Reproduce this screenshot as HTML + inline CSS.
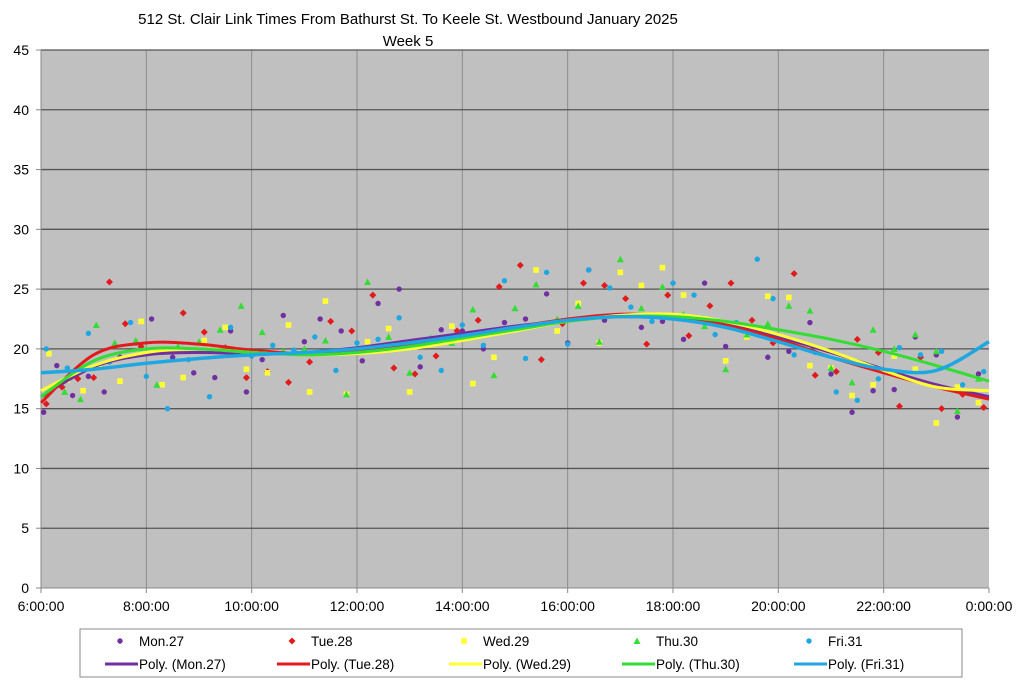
<!DOCTYPE html>
<html><head><meta charset="utf-8"><style>
html,body{margin:0;padding:0;background:#fff;}
svg{display:block;font-family:"Liberation Sans",sans-serif;}
</style></head><body>
<svg id="chart" width="1024" height="682" viewBox="0 0 1024 682" xmlns="http://www.w3.org/2000/svg">
<text x="408" y="24" font-size="15" text-anchor="middle">512 St. Clair Link Times From Bathurst St. To Keele St. Westbound January 2025</text>
<text x="408" y="46" font-size="15" text-anchor="middle">Week 5</text>
<rect x="41" y="50" width="948" height="538" fill="#c0c0c0"/>
<g id="grid"></g><g id="axes"></g><g id="points"></g><g id="trends"></g>
<g id="legend">
<rect x="80" y="629" width="882" height="48" fill="#fff" stroke="#888"/>
</g>
</svg>
<script>
const yTicks=[0,5,10,15,20,25,30,35,40,45];
const xTicks=[6,8,10,12,14,16,18,20,22,24];
const xTickLabels=["6:00:00","8:00:00","10:00:00","12:00:00","14:00:00","16:00:00","18:00:00","20:00:00","22:00:00","0:00:00"];
const seriesNames=["Mon.27","Tue.28","Wed.29","Thu.30","Fri.31"];
const trendHours=[6,7,8,9,10,11,12,13,14,15,16,17,18,19,20,21,22,23,24];
const trendMon=[16,18.5,19.5,19.7,19.6,19.7,20.1,20.7,21.3,21.9,22.4,22.7,22.6,22,21,19.7,18.3,17,16];
const trendTue=[15.5,19.5,20.5,20.4,19.9,19.6,19.8,20.3,21,21.8,22.5,22.9,22.7,22,20.8,19.3,18,16.8,15.8];
const trendWed=[16.5,18.6,19.7,20,19.7,19.5,19.6,20,20.7,21.5,22.3,22.8,22.9,22.3,21.2,19.8,18.2,16.8,16.5];
const trendThu=[16,19,20,20,19.7,19.5,19.7,20.2,20.9,21.6,22.3,22.7,22.7,22.3,21.6,20.8,19.8,18.6,17.3];
const trendFri=[18,18.3,18.8,19.2,19.5,19.7,20,20.5,21.1,21.8,22.4,22.7,22.5,21.8,20.6,19.3,18.3,18.2,20.6];
const monT=[6.05,6.3,6.6,6.9,7.2,7.5,7.8,8.1,8.5,8.9,9.3,9.6,9.9,10.2,10.6,11,11.3,11.7,12.1,12.4,12.8,13.2,13.6,14,14.4,14.8,15.2,15.6,16,16.4,16.7,17,17.4,17.8,18.2,18.6,19,19.4,19.8,20.2,20.6,21,21.4,21.8,22.2,22.6,23,23.4,23.8];
const monV=[14.7,18.6,16.1,17.7,16.4,19.3,20.5,22.5,19.3,18,17.6,21.5,16.4,19.1,22.8,20.6,22.5,21.5,19,23.8,25,18.5,21.6,21.5,20,22.2,22.5,24.6,20.5,26.6,22.4,26.4,21.8,22.3,20.8,25.5,20.2,21,19.3,19.8,22.2,17.9,14.7,16.5,16.6,21,19.5,14.3,17.9];
const tueT=[6.1,6.4,6.7,7,7.3,7.6,7.9,8.3,8.7,9.1,9.5,9.9,10.3,10.7,11.1,11.5,11.9,12.3,12.7,13.1,13.5,13.9,14.3,14.7,15.1,15.5,15.9,16.3,16.7,17.1,17.5,17.9,18.3,18.7,19.1,19.5,19.9,20.3,20.7,21.1,21.5,21.9,22.3,22.7,23.1,23.5,23.9];
const tueV=[15.4,16.8,17.5,17.6,25.6,22.1,20.2,19.9,23,21.4,20.1,17.6,18.1,17.2,18.9,22.3,21.5,24.5,18.4,17.9,19.4,21.5,22.4,25.2,27,19.1,22.1,25.5,25.3,24.2,20.4,24.5,21.1,23.6,25.5,22.4,20.5,26.3,17.8,18.1,20.8,19.7,15.2,19.3,15,16.2,15.1];
const wedT=[6.15,6.5,6.8,7.1,7.5,7.9,8.3,8.7,9.1,9.5,9.9,10.3,10.7,11.1,11.4,11.8,12.2,12.6,13,13.4,13.8,14.2,14.6,15,15.4,15.8,16.2,16.6,17,17.4,17.8,18.2,18.6,19,19.4,19.8,20.2,20.6,21,21.4,21.8,22.2,22.6,23,23.4,23.8];
const wedV=[19.6,17.4,16.5,18.5,17.3,22.3,17,17.6,20.7,21.8,18.3,18,22,16.4,24,16.2,20.6,21.7,16.4,20.5,21.9,17.1,19.3,21.6,26.6,21.5,23.8,20.5,26.4,25.3,26.8,24.5,22.5,19,21,24.4,24.3,18.6,18.4,16.1,17,19.4,18.3,13.8,16.8,15.5];
const thuT=[6.1,6.45,6.75,7.05,7.4,7.8,8.2,8.6,9,9.4,9.8,10.2,10.6,11,11.4,11.8,12.2,12.6,13,13.4,13.8,14.2,14.6,15,15.4,15.8,16.2,16.6,17,17.4,17.8,18.2,18.6,19,19.4,19.8,20.2,20.6,21,21.4,21.8,22.2,22.6,23,23.4,23.8];
const thuV=[16.2,16.4,15.8,22,20.5,20.7,17,20.2,20.6,21.6,23.6,21.4,19.8,20,20.7,16.2,25.6,21,18,20.9,20.5,23.3,17.8,23.4,25.4,22.5,23.6,20.6,27.5,23.4,25.2,22.9,21.9,18.3,21.2,22.1,23.6,23.2,18.4,17.2,21.6,20,21.2,19.8,14.8,17.5];
const friT=[6.1,6.5,6.9,7.3,7.7,8,8.4,8.8,9.2,9.6,10,10.4,10.8,11.2,11.6,12,12.4,12.8,13.2,13.6,14,14.4,14.8,15.2,15.6,16,16.4,16.8,17.2,17.6,18,18.4,18.8,19.2,19.6,19.9,20.3,20.7,21.1,21.5,21.9,22.3,22.7,23.1,23.5,23.9];
const friV=[20,18.4,21.3,18.9,22.2,17.7,15,19.1,16,21.8,19.4,20.3,19.9,21,18.2,20.5,20.8,22.6,19.3,18.2,22,20.3,25.7,19.2,26.4,20.4,26.6,25.1,23.5,22.3,25.5,24.5,21.2,22.2,27.5,24.2,19.5,19.7,16.4,15.7,17.5,20.1,19.5,19.8,17,18.1];
const colors=["#7030a0","#e31a1c","#ffff33","#33dd33","#1ea7e1"];

const NS="http://www.w3.org/2000/svg";
const X0=41,X1=989,Y0=588,Y1=50;
const xs=h=>X0+(h-6)/18*(X1-X0);
const ys=v=>Y0-v/45*(Y0-Y1);
function mk(tag,attrs,parent){const e=document.createElementNS(NS,tag);for(const k in attrs)e.setAttribute(k,attrs[k]);parent.appendChild(e);return e;}
const grid=document.getElementById('grid'),axes=document.getElementById('axes');
xTicks.forEach((t,i)=>{
 if(i>0&&i<xTicks.length-1){const l=mk('line',{x1:xs(t),x2:xs(t),y1:Y1,y2:Y0,stroke:'#8c8c8c','stroke-width':1},grid);
 
 }
 const tk=mk('line',{x1:xs(t),x2:xs(t),y1:Y0,y2:Y0+5,stroke:'#888'},axes);
 
 
 const tx=mk('text',{x:xs(t),y:611,'font-size':14,'text-anchor':'middle'},axes);tx.textContent=xTickLabels[i];
 
 
});
yTicks.forEach(v=>{
 if(v>0){const l=mk('line',{x1:X0,x2:X1,y1:ys(v),y2:ys(v),stroke:'#555','stroke-width':1.3},grid);
 
 }
 const tk=mk('line',{x1:X0-5,x2:X0,y1:ys(v),y2:ys(v),stroke:'#888'},axes);
 
 
 const tx=mk('text',{x:29,y:ys(v)+5,'font-size':14,'text-anchor':'end'},axes);tx.textContent=v;
 
 
});
const ax=mk('path',{d:`M${X0} ${Y1}V${Y0}H${X1}`,stroke:'#888',fill:'none'},axes);



function marker(kind,cx,cy,c,parent){
 let e;
 if(kind===0||kind===4) e=mk('circle',{cx,cy,r:2.7,fill:c},parent);
 else if(kind===1) e=mk('path',{d:`M${cx} ${cy-3.5}L${cx+3.5} ${cy}L${cx} ${cy+3.5}L${cx-3.5} ${cy}Z`,fill:c},parent);
 else if(kind===2) e=mk('rect',{x:cx-2.8,y:cy-2.8,width:5.6,height:5.6,fill:c},parent);
 else e=mk('path',{d:`M${cx} ${cy-3.5}L${cx+3.5} ${cy+3}L${cx-3.5} ${cy+3}Z`,fill:c},parent);
 return e;
}
const pts=document.getElementById('points');
const sT=[monT,tueT,wedT,thuT,friT],sV=[monV,tueV,wedV,thuV,friV];
for(let s=0;s<5;s++){
 sT[s].forEach((t,i)=>{const m=marker(s,xs(t),ys(sV[s][i]),colors[s],pts);
  
  });
}
const trends=[trendMon,trendTue,trendWed,trendThu,trendFri];
const tg=document.getElementById('trends');
function smooth(P){let d=`M${P[0][0]} ${P[0][1]}`;for(let i=0;i<P.length-1;i++){const p0=P[i-1]||P[i],p1=P[i],p2=P[i+1],p3=P[i+2]||p2;
 d+=`C${p1[0]+(p2[0]-p0[0])/6} ${p1[1]+(p2[1]-p0[1])/6} ${p2[0]-(p3[0]-p1[0])/6} ${p2[1]-(p3[1]-p1[1])/6} ${p2[0]} ${p2[1]}`;}return d;}
trends.forEach((arr,s)=>{
 const P=trendHours.map((h,i)=>[xs(h),ys(arr[i])]);
 const p=mk('path',{d:smooth(P),stroke:colors[s],'stroke-width':s===4?3.5:3,fill:'none'},tg);
 
 
});
const lg=document.getElementById('legend');
const colX=[105,277,449,622,794];
seriesNames.forEach((n,s)=>{
 const m=marker(s,colX[s]+15,641,colors[s],lg);
 
 
 const t=mk('text',{x:colX[s]+34,y:646,'font-size':13.5},lg);t.textContent=n;
 
 
 const l=mk('line',{x1:colX[s],x2:colX[s]+33,y1:664,y2:664,stroke:colors[s],'stroke-width':3},lg);
 
 
 const t2=mk('text',{x:colX[s]+34,y:669,'font-size':13.5},lg);t2.textContent='Poly. ('+n+')';
 
 
});
</script>
</body></html>
